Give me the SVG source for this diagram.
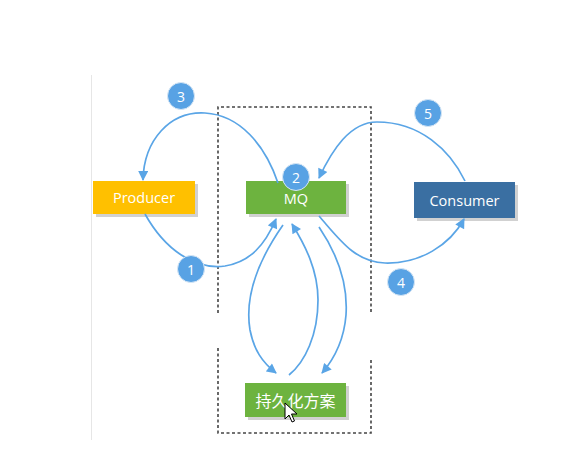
<svg xmlns="http://www.w3.org/2000/svg" width="575" height="475" viewBox="0 0 575 475">
<defs>
<style>
.lbl{font-family:"Open Sans","Liberation Sans","Noto Sans CJK SC",sans-serif;font-size:14.5px;fill:#fff;text-anchor:middle;dominant-baseline:central}
.cn{font-family:"Noto Sans CJK SC",sans-serif;font-size:16px;fill:#fff;text-anchor:middle;dominant-baseline:central}
.num{font-family:"Open Sans","Liberation Sans",sans-serif;font-size:14px;fill:#fff;text-anchor:middle;dominant-baseline:central}
.sh{fill:#bdbdbd;opacity:0.7}
.conn{fill:none;stroke:#5aa5e6;stroke-width:1.7}
.badge{fill:#58a2e4;stroke:#d6e6f5;stroke-width:1}
.dash{fill:none;stroke:#444;stroke-width:1.6;stroke-dasharray:3,2.5}
</style>
<marker id="ah" viewBox="0 0 10 10" refX="9" refY="5" markerWidth="11" markerHeight="10" markerUnits="userSpaceOnUse" orient="auto"><path d="M0,0 L10,5 L0,10 z" fill="#5aa5e6"/></marker>
</defs>
<rect width="575" height="475" fill="#fff"/>
<line x1="91.5" y1="75" x2="91.5" y2="440" stroke="#e6e6e6" stroke-width="1"/>
<g id="boundary">
<path class="dash" d="M218,313 V107 H371 V313"/>
<path class="dash" d="M218,348 V433 H371 V359"/>
</g>
<g id="producer">
<rect class="sh" x="96" y="184" width="102" height="33"/>
<rect x="93" y="181" width="102" height="33" fill="#ffc000"/>
<text class="lbl" x="144" y="197.5">Producer</text>
</g>
<g id="mq">
<rect class="sh" x="249" y="184" width="100" height="33"/>
<rect x="246" y="181" width="100" height="33" fill="#6db33f"/>
<text class="lbl" x="296" y="198">MQ</text>
</g>
<g id="consumer">
<rect class="sh" x="417" y="185" width="101" height="36"/>
<rect x="414" y="182" width="101" height="36" fill="#3a6fa2"/>
<text class="lbl" x="464.5" y="200">Consumer</text>
</g>
<g id="persist">
<rect class="sh" x="248" y="386" width="101" height="34"/>
<rect x="245" y="383" width="101" height="34" fill="#6db33f"/>
<text class="cn" x="295.5" y="400">持久化方案</text>
</g>
<g id="connectors">
<path class="conn" marker-end="url(#ah)" d="M145,214 C165,250 195,270 225,266 C250,262 265,245 276,219"/>
<path class="conn" marker-end="url(#ah)" d="M278,183 C265,145 240,115 205,113 C170,111 144,140 143,180"/>
<path class="conn" marker-end="url(#ah)" d="M465,181 C450,150 420,122 377,122 C350,122 332,150 319,178"/>
<path class="conn" marker-end="url(#ah)" d="M319,216 C340,240 355,262 385,263 C420,264 450,245 464,219"/>
<path class="conn" marker-end="url(#ah)" d="M283,225 C255,265 245,300 250,330 C254,350 262,362 276,373"/>
<path class="conn" marker-end="url(#ah)" d="M289,375 C305,362 318,335 318,300 C318,270 305,245 292,224"/>
<path class="conn" marker-end="url(#ah)" d="M319,227 C338,255 348,285 346,315 C344,340 335,358 322,373"/>
</g>
<g id="badges">
<circle class="badge" cx="181" cy="96" r="13.5"/><text class="num" x="181" y="96">3</text>
<circle class="badge" cx="191" cy="269" r="13.5"/><text class="num" x="191" y="269">1</text>
<circle class="badge" cx="296" cy="177" r="13.5"/><text class="num" x="296" y="177">2</text>
<circle class="badge" cx="428" cy="113" r="13.5"/><text class="num" x="428" y="113">5</text>
<circle class="badge" cx="401" cy="282" r="13.5"/><text class="num" x="401" y="282">4</text>
</g>
<path d="M285,403 L285,419 L289,415 L292,422 L294.5,421 L291.5,414 L297,414 Z" fill="#fff" stroke="#000" stroke-width="1"/>
</svg>
